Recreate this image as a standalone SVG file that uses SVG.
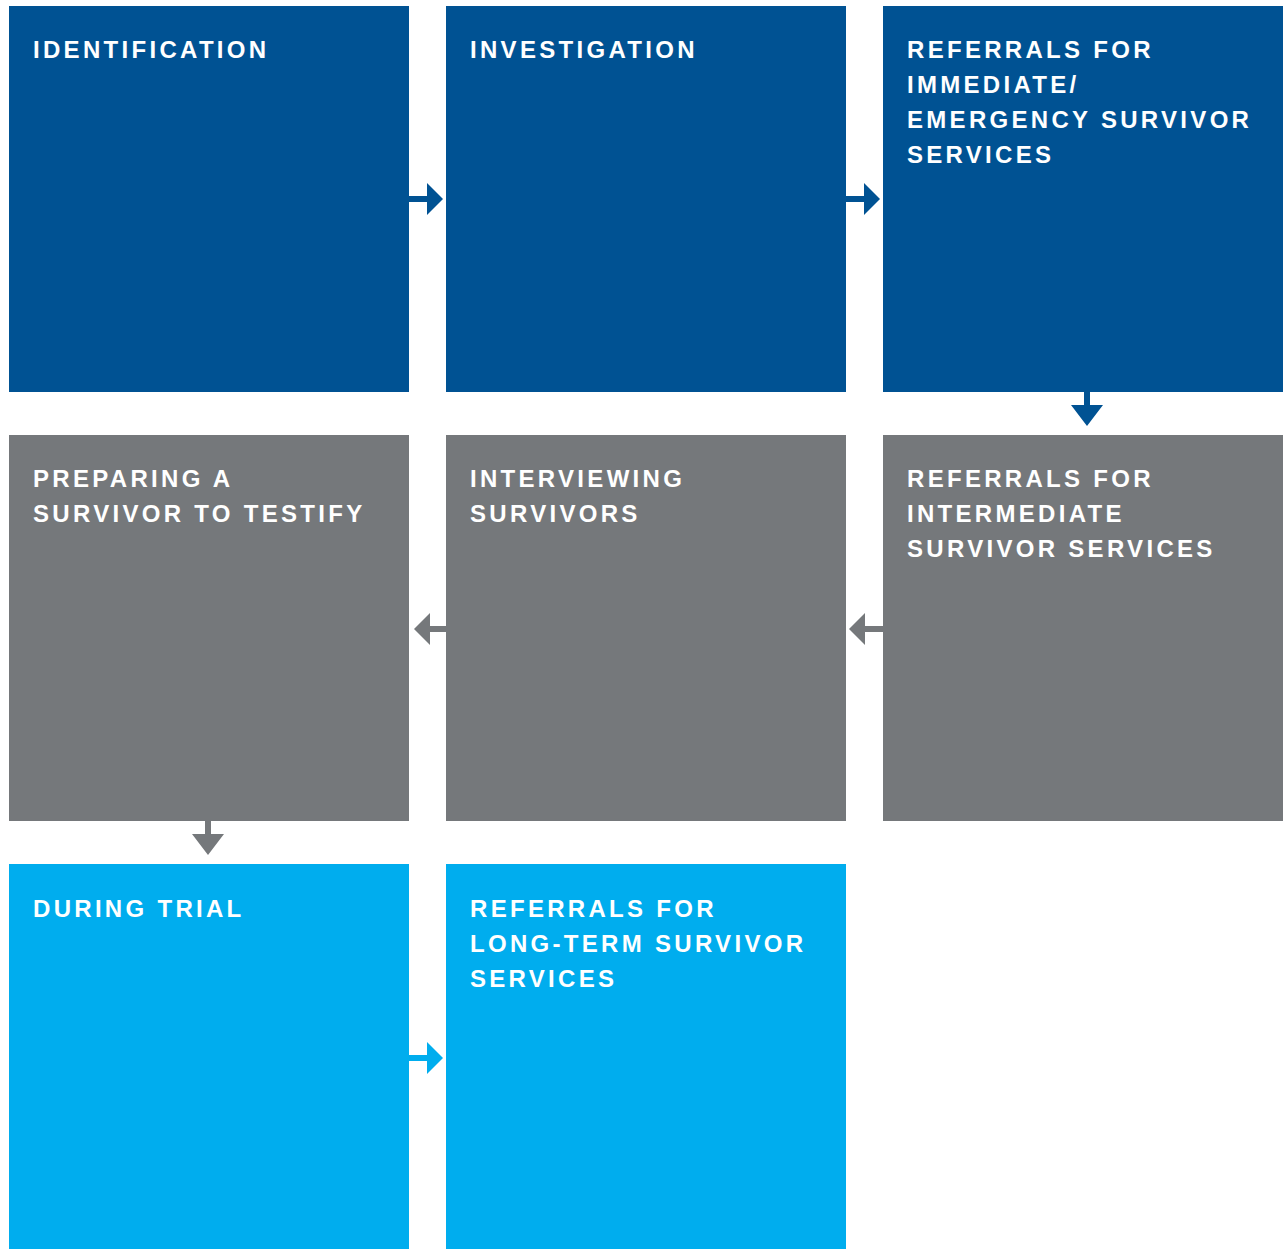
<svg xmlns="http://www.w3.org/2000/svg" width="1283" height="1249" viewBox="0 0 1283 1249">
<style>
.t{font-family:"Liberation Sans",Arial,sans-serif;font-weight:bold;font-size:24px;letter-spacing:3.3px;fill:#fff}
.b{fill:#005293}.g{fill:#75787b}.l{fill:#00adee}
</style>
<rect width="1283" height="1249" fill="#fff"/>
<g id="identification"><rect class="b" x="9" y="6" width="400" height="386"/><text class="t" x="33" y="58">IDENTIFICATION</text></g>
<g id="investigation"><rect class="b" x="446" y="6" width="400" height="386"/><text class="t" x="470" y="58">INVESTIGATION</text></g>
<g id="referrals-immediate"><rect class="b" x="883" y="6" width="400" height="386"/><text class="t" x="907" y="58">REFERRALS FOR<tspan x="907" dy="35">IMMEDIATE/</tspan><tspan x="907" dy="34.5">EMERGENCY SURVIVOR</tspan><tspan x="907" dy="35">SERVICES</tspan></text></g>
<g id="referrals-intermediate"><rect class="g" x="883" y="435" width="400" height="386"/><text class="t" x="907" y="487">REFERRALS FOR<tspan x="907" dy="35">INTERMEDIATE</tspan><tspan x="907" dy="35">SURVIVOR SERVICES</tspan></text></g>
<g id="interviewing"><rect class="g" x="446" y="435" width="400" height="386"/><text class="t" x="470" y="487">INTERVIEWING<tspan x="470" dy="35">SURVIVORS</tspan></text></g>
<g id="preparing"><rect class="g" x="9" y="435" width="400" height="386"/><text class="t" x="33" y="487">PREPARING A<tspan x="33" dy="35">SURVIVOR TO TESTIFY</tspan></text></g>
<g id="during-trial"><rect class="l" x="9" y="864" width="400" height="385"/><text class="t" x="33" y="917">DURING TRIAL</text></g>
<g id="referrals-long-term"><rect class="l" x="446" y="864" width="400" height="385"/><text class="t" x="470" y="917">REFERRALS FOR<tspan x="470" dy="34.5">LONG-TERM SURVIVOR</tspan><tspan x="470" dy="35">SERVICES</tspan></text></g>
<g id="connectors">
<path class="b" d="M409 196H427V183L443 199L427 215V202H409Z"/>
<path class="b" d="M846 196H864V183L880 199L864 215V202H846Z"/>
<path class="b" d="M1084 392V405H1071L1087 426L1103 405H1090V392Z"/>
<path class="g" d="M883 626H865V613L849 629L865 645V632H883Z"/>
<path class="g" d="M446 626H430V613L414 629L430 645V632H446Z"/>
<path class="g" d="M205 821V834H192L208 855L224 834H211V821Z"/>
<path class="l" d="M409 1055H427V1042L443 1058L427 1074V1061H409Z"/>
</g>
</svg>
